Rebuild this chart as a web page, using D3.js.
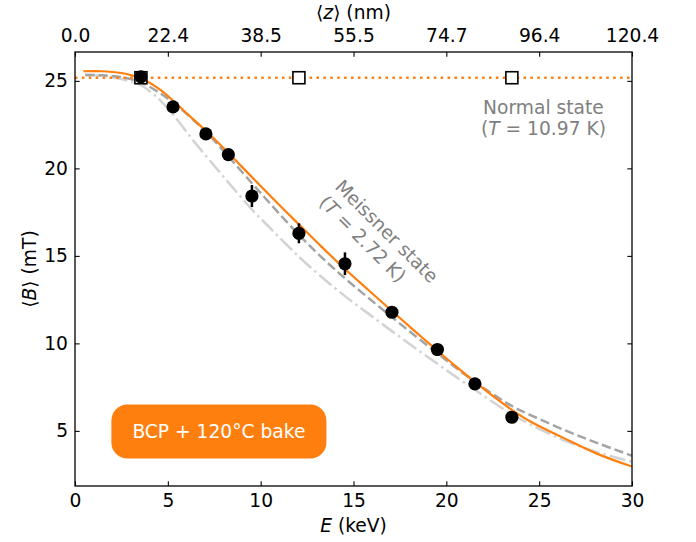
<!DOCTYPE html>
<html><head><meta charset="utf-8">
<script src="https://cdn.jsdelivr.net/npm/d3@7"></script>
<style>
body{margin:0;background:#fff;}
svg{display:block;font-family:"DejaVu Sans",sans-serif;}
</style></head><body>
<svg id="c" width="696" height="542"></svg>
<script>
// ---- data ----
const xTicks = [0, 5, 10, 15, 20, 25, 30];
const yTicks = [5, 10, 15, 20, 25];
const topTickLabels = ["0.0", "22.4", "38.5", "55.5", "74.7", "96.4", "120.4"];

// measured average field (black circles)
const dataE = [3.55, 5.28, 7.05, 8.26, 9.53, 12.06, 14.54, 17.07, 19.52, 21.54, 23.53];
const dataB = [25.23, 23.51, 21.97, 20.79, 18.42, 16.29, 14.55, 11.78, 9.65, 7.69, 5.78];
const dataErr = [0.15, 0.2, 0.2, 0.25, 0.63, 0.57, 0.65, 0.3, 0.2, 0.2, 0.15];

// normal state (open squares + dotted line)
const normalE = [3.55, 12.06, 23.53];
const normalB = [25.18, 25.18, 25.18];
const normalLevel = 25.18;

// fit (orange solid)
const fitE = [0.45, 1.5, 2.5, 3.0, 3.55, 4.58, 5.3, 6.37, 7.05, 8.2, 9.53, 10.5, 12.06, 13.3, 14.54, 15.8, 17.07, 18.3, 19.5, 20.5, 21.54, 22.5, 23.53, 24.5, 26.3, 28.1, 30];
const fitB = [25.55, 25.55, 25.45, 25.33, 25.15, 24.5, 23.85, 22.8, 22.15, 20.95, 19.5, 18.45, 16.8, 15.5, 14.25, 13.05, 11.85, 10.7, 9.6, 8.7, 7.8, 7.0, 6.2, 5.55, 4.6, 3.7, 2.96];

// Meissner state model (grey dashed)
const meisE = [0.55, 1.5, 2.5, 3.0, 3.55, 4.5, 5.3, 6.4, 7.05, 8.2, 9.53, 10.5, 12.06, 13.3, 14.54, 15.8, 17.07, 18.3, 19.5, 20.5, 21.54, 22.5, 23.53, 24.5, 26.47, 28.2, 30];
const meisB = [25.33, 25.32, 25.22, 25.1, 24.92, 24.35, 23.75, 22.75, 22.1, 20.75, 19.15, 18.0, 16.2, 14.9, 13.72, 12.6, 11.5, 10.45, 9.45, 8.62, 7.8, 7.1, 6.42, 5.92, 5.0, 4.28, 3.58];

// alternative model (light grey dash-dot)
const altE = [0.55, 1.5, 2.5, 3.0, 3.55, 4.5, 5.3, 6.4, 7.5, 8.5, 9.53, 10.5, 12.06, 13.3, 14.54, 15.8, 17.07, 18.3, 19.5, 20.5, 21.54, 22.5, 23.53, 24.5, 26.47, 28.2, 30];
const altB = [25.33, 25.28, 25.1, 24.95, 24.75, 23.98, 23.05, 21.55, 20.15, 18.9, 17.65, 16.6, 14.95, 13.78, 12.7, 11.7, 10.7, 9.75, 8.85, 8.1, 7.35, 6.65, 5.95, 5.38, 4.4, 3.76, 3.24];

// ---- drawing ----
const svg = d3.select("#c");
const FS = 18.67;
const pL = 75, pR = 632, pT = 52, pB = 486;
const x = d3.scaleLinear().domain([0, 30]).range([pL, pR]);
const y = d3.scaleLinear().domain([1.85, 26.65]).range([pB, pT]);
const TL = 4.67;

svg.append("defs").append("clipPath").attr("id", "pc")
  .append("rect").attr("x", pL).attr("y", pT).attr("width", pR - pL).attr("height", pB - pT);

const plot = svg.append("g").attr("clip-path", "url(#pc)");

const line = (E, B) => d3.line().x((d, i) => x(E[i])).y((d, i) => y(B[i])).curve(d3.curveCatmullRom.alpha(0.5))(E);

plot.append("path").attr("d", line(altE, altB)).attr("fill", "none")
  .attr("stroke", "#d3d3d3").attr("stroke-width", 2.5).attr("stroke-dasharray", "16,4,2.5,4");
plot.append("path").attr("d", line(meisE, meisB)).attr("fill", "none")
  .attr("stroke", "#a4a4a4").attr("stroke-width", 2.5).attr("stroke-dasharray", "9.25,4");
plot.append("path").attr("d", line(fitE, fitB)).attr("fill", "none")
  .attr("stroke", "#ff7f0e").attr("stroke-width", 2.2);
plot.append("line").attr("x1", x(0)).attr("x2", x(30)).attr("y1", y(normalLevel)).attr("y2", y(normalLevel))
  .attr("stroke", "#ff7f0e").attr("stroke-width", 2.5).attr("stroke-dasharray", "2.5,4.4");

// normal-state squares
plot.selectAll("rect.sq").data(normalE).enter().append("rect").attr("class", "sq")
  .attr("x", (d) => x(d) - 6).attr("y", (d, i) => y(normalB[i]) - 6)
  .attr("width", 12).attr("height", 12)
  .attr("fill", "#fff").attr("stroke", "#000").attr("stroke-width", 1.6);

// error bars and points
plot.selectAll("line.eb").data(dataE).enter().append("line").attr("class", "eb")
  .attr("x1", (d) => x(d)).attr("x2", (d) => x(d))
  .attr("y1", (d, i) => y(dataB[i] - dataErr[i])).attr("y2", (d, i) => y(dataB[i] + dataErr[i]))
  .attr("stroke", "#000").attr("stroke-width", 2.5);
plot.selectAll("circle.pt").data(dataE).enter().append("circle").attr("class", "pt")
  .attr("cx", (d) => x(d)).attr("cy", (d, i) => y(dataB[i])).attr("r", 6.6).attr("fill", "#000");

// axes
function styleAxis(g) {
  g.select(".domain").remove();
  g.selectAll(".tick line").attr("stroke", "#000").attr("stroke-width", 1.07);
  g.selectAll(".tick text").attr("fill", "#000");
  g.attr("font-size", FS).attr("font-family", "DejaVu Sans");
}
svg.append("g").attr("transform", `translate(0,${pB})`)
  .call(d3.axisBottom(x).tickValues(xTicks).tickFormat(d3.format("d")).tickSizeInner(-TL).tickSizeOuter(0).tickPadding(7.7))
  .call(styleAxis);
svg.append("g").attr("transform", `translate(0,${pT})`)
  .call(d3.axisTop(x).tickValues(xTicks).tickFormat((d, i) => topTickLabels[i]).tickSizeInner(-TL).tickSizeOuter(0).tickPadding(10.3))
  .call(styleAxis);
svg.append("g").attr("transform", `translate(${pL},0)`)
  .call(d3.axisLeft(y).tickValues(yTicks).tickFormat(d3.format("d")).tickSizeInner(-TL).tickSizeOuter(0).tickPadding(7))
  .call(styleAxis);
svg.append("g").attr("transform", `translate(${pR},0)`)
  .call(d3.axisRight(y).tickValues(yTicks).tickFormat("").tickSizeInner(-TL).tickSizeOuter(0))
  .call(styleAxis);

svg.append("rect").attr("x", pL).attr("y", pT).attr("width", pR - pL).attr("height", pB - pT)
  .attr("fill", "none").attr("stroke", "#000").attr("stroke-width", 1.3);

// axis labels
function richText(parent, parts) {
  const t = parent.append("text").attr("font-size", FS).attr("font-family", "DejaVu Sans");
  parts.forEach(p => {
    const s = t.append("tspan").text(p[0]);
    if (p[1]) s.attr("font-style", "italic");
  });
  return t;
}
richText(svg, [["E", 1], [" (keV)"]])
  .attr("x", (pL + pR) / 2).attr("y", 532).attr("text-anchor", "middle");
richText(svg, [["⟨"], ["z", 1], ["⟩ (nm)"]])
  .attr("x", (pL + pR) / 2).attr("y", 19).attr("text-anchor", "middle");
richText(svg, [["⟨"], ["B", 1], ["⟩ (mT)"]])
  .attr("text-anchor", "middle").attr("transform", `translate(35.5,${(pT + pB) / 2}) rotate(-90)`);

// annotations
const grey = "#808080";
const nsX = x(25.23);
richText(svg, [["Normal state"]]).attr("x", nsX).attr("y", y(23.1)).attr("text-anchor", "middle").attr("fill", grey);
richText(svg, [["("], ["T", 1], [" = 10.97 K)"]]).attr("x", nsX).attr("y", y(23.1) + 20.5).attr("text-anchor", "middle").attr("fill", grey);

const mg = svg.append("g").attr("transform", `translate(${x(14.2)},${y(19.17)}) rotate(45)`);
richText(mg, [["Meissner state"]]).attr("x", 0).attr("y", 6.7).attr("fill", grey);
richText(mg, [["("], ["T", 1], [" = 2.72 K)"]]).attr("x", 0).attr("y", 6.7 + 22.5).attr("fill", grey);

// label box
const bg = svg.append("g");
const bt = richText(bg, [["BCP + 120°C bake"]]).attr("x", x(7.75)).attr("y", y(4.99) + 7).attr("text-anchor", "middle").attr("fill", "#fff");
const bb = bt.node().getBBox();
bg.insert("rect", "text")
  .attr("x", bb.x - 21).attr("y", bb.y - 16.5).attr("width", bb.width + 42).attr("height", bb.height + 33)
  .attr("rx", 16).attr("ry", 16).attr("fill", "#ff7f0e");
</script>
</body></html>
